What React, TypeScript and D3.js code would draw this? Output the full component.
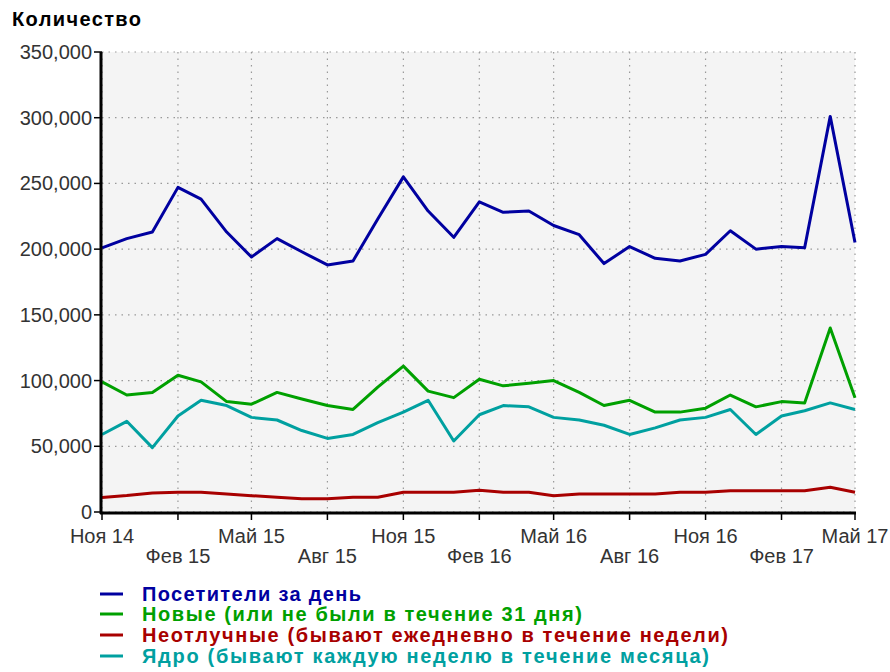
import React from "react";
import * as d3 from "d3";

const months: string[] = [
  "2014-11","2014-12","2015-01","2015-02","2015-03","2015-04","2015-05","2015-06","2015-07","2015-08",
  "2015-09","2015-10","2015-11","2015-12","2016-01","2016-02","2016-03","2016-04","2016-05","2016-06",
  "2016-07","2016-08","2016-09","2016-10","2016-11","2016-12","2017-01","2017-02","2017-03","2017-04","2017-05",
];
const visitors: number[] = [201,208,213,247,238,213,194,208,198,188,191,223,255,229,209,236,228,229,218,211,189,202,193,191,196,214,200,202,201,301,205];
const newVisitors: number[] = [99,89,91,104,99,84,82,91,86,81,78,95,111,92,87,101,96,98,100,91,81,85,76,76,79,89,80,84,83,140,87];
const loyal: number[] = [11,12.5,14.5,15,15,13.7,12.4,11.2,10,10,11.2,11.2,15,15,15,16.5,15,15,12.4,13.7,13.7,13.7,13.7,15,15,16.2,16.2,16.2,16.2,18.8,15];
const core: number[] = [59,69,49,73,85,81,72,70,62,56,59,68,76,85,54,74,81,80,72,70,66,59,64,70,72,78,59,73,77,83,78];

const xTickDates: string[] = ["2014-11","2015-02","2015-05","2015-08","2015-11","2016-02","2016-05","2016-08","2016-11","2017-02","2017-05"];
const xTickLabels: string[] = ["Ноя 14","Фев 15","Май 15","Авг 15","Ноя 15","Фев 16","Май 16","Авг 16","Ноя 16","Фев 17","Май 17"];
const yTicks: number[] = [0,50000,100000,150000,200000,250000,300000,350000];

const seriesNames: string[] = [
  "Посетители за день",
  "Новые (или не были в течение 31 дня)",
  "Неотлучные (бывают ежедневно в течение недели)",
  "Ядро (бывают каждую неделю в течение месяца)",
];
const seriesColors: string[] = ["#0000a0", "#00a000", "#a80000", "#00a0a0"];
const seriesData: number[][] = [visitors, newVisitors, loyal, core];
const legendWidths: number[] = [219, 440, 586, 567];

const parse = d3.timeParse("%Y-%m");

export default function App() {
  const left = 102, right = 855, top = 52, bottom = 512;
  const x = d3.scaleTime().domain([parse(months[0])!, parse(months[months.length - 1])!]).range([left, right]);
  const y = d3.scaleLinear().domain([0, 350000]).range([bottom, top]);
  const line = d3.line<number>()
    .x((_, i) => x(parse(months[i])!))
    .y((d) => y(d * 1000));
  const fmt = d3.format(",");
  const font = "'Liberation Sans', Arial, sans-serif";
  const legendBase = [601, 621, 642, 663];

  return (
    <svg width={890} height={672} style={{ position: "absolute", left: 0, top: 0, background: "#fff" }} fontFamily={font}>
      <text x={12} y={26} fontSize={20} fontWeight="bold" fill="#000" textLength={129} lengthAdjust="spacing">Количество</text>
      <rect x={left} y={top} width={right - left} height={bottom - top} fill="#f4f4f4" />
      {yTicks.map((t) => (
        <line key={"gy" + t} x1={left} x2={right} y1={y(t)} y2={y(t)} stroke="#999" strokeWidth={1.2} strokeDasharray="1.5,5" />
      ))}
      {xTickDates.map((d) => (
        <line key={"gx" + d} x1={x(parse(d)!)} x2={x(parse(d)!)} y1={top} y2={bottom} stroke="#999" strokeWidth={1.2} strokeDasharray="1.5,5" />
      ))}
      {seriesData.map((s, k) => (
        <path key={"s" + k} d={line(s)!} fill="none" stroke={seriesColors[k]} strokeWidth={3} strokeLinejoin="round" />
      ))}
      <line x1={left - 1} x2={left - 1} y1={top} y2={bottom + 2} stroke="#000" strokeWidth={3} />
      <line x1={left - 2} x2={right + 1} y1={bottom + 1} y2={bottom + 1} stroke="#000" strokeWidth={3} />
      {yTicks.map((t) => (
        <g key={"yt" + t}>
          <line x1={left - 8} x2={left} y1={y(t)} y2={y(t)} stroke="#000" strokeWidth={1.5} />
          <text x={left - 10} y={y(t) + 7} fontSize={20} textAnchor="end" fill="#333">{fmt(t)}</text>
        </g>
      ))}
      {xTickDates.map((d, i) => (
        <g key={"xt" + d}>
          <line x1={x(parse(d)!)} x2={x(parse(d)!)} y1={bottom} y2={bottom + 8} stroke="#000" strokeWidth={1.5} />
          <text x={x(parse(d)!)} y={i % 2 === 0 ? 543 : 563} fontSize={20} textAnchor="middle" fill="#333">{xTickLabels[i]}</text>
        </g>
      ))}
      {seriesNames.map((n, k) => (
        <g key={"lg" + k}>
          <line x1={100} x2={123} y1={legendBase[k] - 7} y2={legendBase[k] - 7} stroke={seriesColors[k]} strokeWidth={3} />
          <text x={142} y={legendBase[k]} fontSize={20} fontWeight="bold" fill={seriesColors[k]} textLength={legendWidths[k]} lengthAdjust="spacing">{n}</text>
        </g>
      ))}
    </svg>
  );
}
